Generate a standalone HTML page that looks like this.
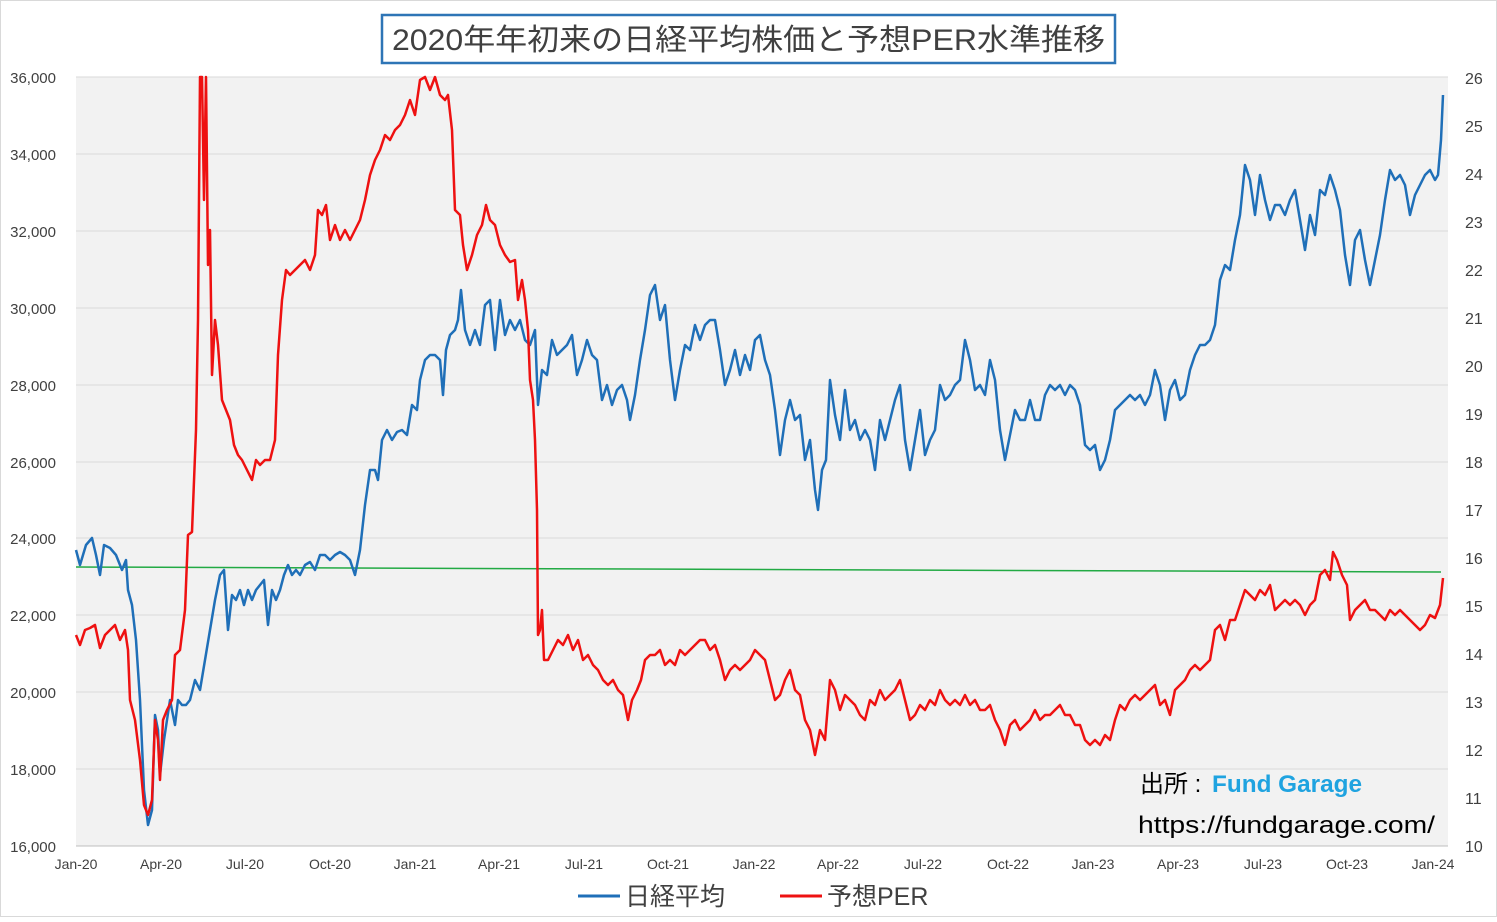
<!DOCTYPE html>
<html><head><meta charset="utf-8"><style>
body{margin:0;background:#fff;}
svg text{font-family:"Liberation Sans","Noto Sans CJK JP",sans-serif;}
</style></head><body>
<svg width="1497" height="917" xmlns="http://www.w3.org/2000/svg">
<rect x="0.5" y="0.5" width="1496" height="916" fill="#fff" stroke="#d9d9d9"/>
<rect x="76" y="77" width="1372" height="769" fill="#f2f2f2"/>
<g stroke="#d9d9d9" stroke-width="1">
<line x1="76" x2="1448" y1="77" y2="77"/><line x1="76" x2="1448" y1="154" y2="154"/><line x1="76" x2="1448" y1="231" y2="231"/><line x1="76" x2="1448" y1="308" y2="308"/><line x1="76" x2="1448" y1="385" y2="385"/><line x1="76" x2="1448" y1="462" y2="462"/><line x1="76" x2="1448" y1="538" y2="538"/><line x1="76" x2="1448" y1="615" y2="615"/><line x1="76" x2="1448" y1="692" y2="692"/><line x1="76" x2="1448" y1="769" y2="769"/>
</g>
<line x1="76" x2="1448" y1="846" y2="846" stroke="#bfbfbf"/>
<g font-size="15" fill="#404040" text-anchor="end">
<text x="56" y="83">36,000</text><text x="56" y="160">34,000</text><text x="56" y="237">32,000</text><text x="56" y="314">30,000</text><text x="56" y="391">28,000</text><text x="56" y="468">26,000</text><text x="56" y="544">24,000</text><text x="56" y="621">22,000</text><text x="56" y="698">20,000</text><text x="56" y="775">18,000</text><text x="56" y="852">16,000</text>
</g>
<g font-size="16" fill="#404040" text-anchor="start">
<text x="1465" y="84">26</text><text x="1465" y="132">25</text><text x="1465" y="180">24</text><text x="1465" y="228">23</text><text x="1465" y="276">22</text><text x="1465" y="324">21</text><text x="1465" y="372">20</text><text x="1465" y="420">19</text><text x="1465" y="468">18</text><text x="1465" y="516">17</text><text x="1465" y="564">16</text><text x="1465" y="612">15</text><text x="1465" y="660">14</text><text x="1465" y="708">13</text><text x="1465" y="756">12</text><text x="1465" y="804">11</text><text x="1465" y="852">10</text>
</g>
<g font-size="14" fill="#404040" text-anchor="middle">
<text x="76" y="869">Jan-20</text><text x="161" y="869">Apr-20</text><text x="245" y="869">Jul-20</text><text x="330" y="869">Oct-20</text><text x="415" y="869">Jan-21</text><text x="499" y="869">Apr-21</text><text x="584" y="869">Jul-21</text><text x="668" y="869">Oct-21</text><text x="754" y="869">Jan-22</text><text x="838" y="869">Apr-22</text><text x="923" y="869">Jul-22</text><text x="1008" y="869">Oct-22</text><text x="1093" y="869">Jan-23</text><text x="1178" y="869">Apr-23</text><text x="1263" y="869">Jul-23</text><text x="1347" y="869">Oct-23</text><text x="1433" y="869">Jan-24</text>
</g>
<line x1="76" y1="567" x2="1441" y2="572" stroke="#22aa44" stroke-width="1.5"/>
<polyline fill="none" stroke="#1f6fb8" stroke-width="2.5" stroke-linejoin="round" points="76,550 80,565 86,545 92,538 96,555 100,575 104,545 110,548 116,555 122,570 126,560 128,590 132,605 136,640 140,700 144,790 148,825 152,810 155,715 158,730 160,775 164,740 170,700 175,725 178,700 182,705 186,705 190,700 195,680 200,690 205,660 210,630 215,600 220,575 224,570 228,630 232,595 236,600 240,590 244,605 248,590 252,600 256,590 260,585 264,580 268,625 272,590 276,600 280,590 284,575 288,565 292,575 296,570 300,575 305,565 310,562 315,570 320,555 325,555 330,560 335,555 340,552 345,555 350,560 355,575 360,550 365,505 370,470 375,470 378,480 382,440 387,430 392,440 397,432 402,430 407,435 412,405 417,410 420,380 425,360 430,355 435,355 440,360 443,395 446,350 450,335 455,330 458,320 461,290 465,330 470,345 475,330 480,345 485,305 490,300 495,350 500,300 505,335 510,320 515,330 520,320 525,340 530,345 535,330 538,405 542,370 547,375 552,340 557,355 562,350 567,345 572,335 577,375 582,360 587,340 592,355 597,360 602,400 607,385 612,405 617,390 622,385 627,400 630,420 635,395 640,360 645,330 650,295 655,285 660,320 665,305 670,360 675,400 680,370 685,345 690,350 695,325 700,340 705,325 710,320 715,320 720,350 725,385 730,370 735,350 740,375 745,355 750,370 755,340 760,335 765,360 770,375 775,410 780,455 785,420 790,400 795,420 800,415 805,460 810,440 815,490 818,510 822,470 826,460 830,380 835,415 840,440 845,390 850,430 855,420 860,440 865,430 870,440 875,470 880,420 885,440 890,420 895,400 900,385 905,440 910,470 915,440 920,410 925,455 930,440 935,430 940,385 945,400 950,395 955,385 960,380 965,340 970,360 975,390 980,385 985,395 990,360 995,380 1000,430 1005,460 1010,435 1015,410 1020,420 1025,420 1030,400 1035,420 1040,420 1045,395 1050,385 1055,390 1060,385 1065,395 1070,385 1075,390 1080,405 1085,445 1090,450 1095,445 1100,470 1105,460 1110,440 1115,410 1120,405 1125,400 1130,395 1135,400 1140,395 1145,405 1150,395 1155,370 1160,385 1165,420 1170,390 1175,380 1180,400 1185,395 1190,370 1195,355 1200,345 1205,345 1210,340 1215,325 1220,280 1225,265 1230,270 1235,240 1240,215 1245,165 1250,180 1255,215 1260,175 1265,200 1270,220 1275,205 1280,205 1285,215 1290,200 1295,190 1300,220 1305,250 1310,215 1315,235 1320,190 1325,195 1330,175 1335,190 1340,210 1345,255 1350,285 1355,240 1360,230 1365,260 1370,285 1375,260 1380,235 1385,200 1390,170 1395,180 1400,175 1405,185 1410,215 1415,195 1420,185 1425,175 1430,170 1435,180 1438,175 1441,140 1443,95"/>
<polyline fill="none" stroke="#ee1111" stroke-width="2.5" stroke-linejoin="round" points="76,635 80,645 85,630 90,628 95,625 100,648 105,635 110,630 115,625 120,640 125,630 128,650 130,700 135,720 140,760 144,805 148,815 152,800 155,720 158,740 160,780 163,720 167,710 172,700 175,655 180,650 185,610 188,535 192,532 196,430 198,320 200,77 202,77 204,200 206,77 208,265 210,230 212,375 215,320 218,345 222,400 226,410 230,420 234,445 238,455 242,460 247,470 252,480 256,460 260,465 265,460 270,460 275,440 278,355 282,300 286,270 290,275 295,270 300,265 305,260 310,270 315,255 318,210 322,215 326,205 330,240 335,225 340,240 345,230 350,240 355,230 360,220 365,200 370,175 375,160 380,150 385,135 390,140 395,130 400,125 405,115 410,100 415,115 420,80 425,77 430,90 435,77 440,95 445,100 448,95 452,130 455,210 460,215 463,245 467,270 472,255 477,235 482,225 486,205 490,220 495,225 500,245 505,255 510,262 515,260 518,300 522,280 525,300 528,330 530,380 533,400 535,440 537,510 538,635 540,630 542,610 544,660 548,660 553,650 558,640 563,645 568,635 573,650 578,640 583,660 588,655 593,665 598,670 603,680 608,685 613,680 618,690 623,695 628,720 632,700 637,690 641,680 645,660 650,655 655,655 660,650 665,665 670,660 675,665 680,650 685,655 690,650 695,645 700,640 705,640 710,650 715,645 720,660 725,680 730,670 735,665 740,670 745,665 750,660 755,650 760,655 765,660 770,680 775,700 780,695 785,680 790,670 795,690 800,695 805,720 810,730 815,755 820,730 825,740 830,680 835,690 840,710 845,695 850,700 855,705 860,715 865,720 870,700 875,705 880,690 885,700 890,695 895,690 900,680 905,700 910,720 915,715 920,705 925,710 930,700 935,705 940,690 945,700 950,705 955,700 960,705 965,695 970,705 975,700 980,710 985,710 990,705 995,720 1000,730 1005,745 1010,725 1015,720 1020,730 1025,725 1030,720 1035,710 1040,720 1045,715 1050,715 1055,710 1060,705 1065,715 1070,715 1075,725 1080,725 1085,740 1090,745 1095,740 1100,745 1105,735 1110,740 1115,720 1120,705 1125,710 1130,700 1135,695 1140,700 1145,695 1150,690 1155,685 1160,705 1165,700 1170,715 1175,690 1180,685 1185,680 1190,670 1195,665 1200,670 1205,665 1210,660 1215,630 1220,625 1225,640 1230,620 1235,620 1240,605 1245,590 1250,595 1255,600 1260,590 1265,595 1270,585 1275,610 1280,605 1285,600 1290,605 1295,600 1300,605 1305,615 1310,605 1315,600 1320,575 1325,570 1330,580 1333,552 1337,560 1342,575 1347,585 1350,620 1355,610 1360,605 1365,600 1370,610 1375,610 1380,615 1385,620 1390,610 1395,615 1400,610 1405,615 1410,620 1415,625 1420,630 1425,625 1430,615 1435,618 1440,605 1443,578"/>
<rect x="382" y="15" width="733" height="48" fill="#fff" stroke="#2e75b6" stroke-width="2.5"/>
<text x="392" y="50" font-size="30" fill="#404040" textLength="713" lengthAdjust="spacingAndGlyphs">2020年年初来の日経平均株価と予想PER水準推移</text>
<text x="1140" y="792" font-size="24" fill="#000">出所 :</text>
<text x="1212" y="792" font-size="24" fill="#1fa3e0" font-weight="bold" textLength="150" lengthAdjust="spacingAndGlyphs">Fund Garage</text>
<text x="1138" y="833" font-size="24" fill="#000" textLength="297" lengthAdjust="spacingAndGlyphs">https://fundgarage.com/</text>
<line x1="578" y1="896" x2="620" y2="896" stroke="#1f6fb8" stroke-width="3"/>
<text x="625" y="905" font-size="25" fill="#404040">日経平均</text>
<line x1="780" y1="896" x2="822" y2="896" stroke="#ee1111" stroke-width="3"/>
<text x="827" y="905" font-size="25" fill="#404040">予想PER</text>
</svg>
</body></html>
